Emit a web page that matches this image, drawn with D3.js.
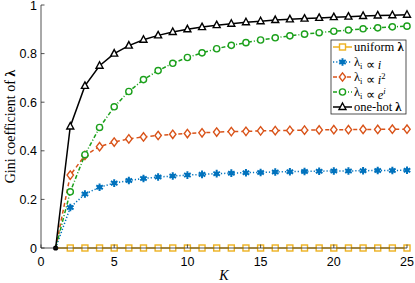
<!DOCTYPE html>
<html>
<head>
<meta charset="utf-8">
<script src="https://cdn.jsdelivr.net/npm/d3@7"></script>
<style>
  body { margin: 0; background: #fff; }
  svg text { fill: #000; }
</style>
</head>
<body>
<div id="chart"></div>
<script>
// K values and gini
var K = d3.range(1, 26);
var uniform = [0,0,0,0,0,0,0,0,0,0,0,0,0,0,0,0,0,0,0,0,0,0,0,0,0];
var linear = [0,0.167,0.222,0.25,0.267,0.278,0.286,0.292,0.296,0.3,0.303,0.306,0.308,0.31,0.311,0.313,0.314,0.315,0.316,0.317,0.317,0.318,0.319,0.319,0.32];
var square = [0,0.3,0.381,0.417,0.436,0.449,0.457,0.463,0.468,0.471,0.474,0.477,0.479,0.48,0.482,0.483,0.484,0.485,0.486,0.487,0.487,0.488,0.488,0.489,0.489];
var expo = [0,0.231,0.384,0.496,0.581,0.644,0.693,0.73,0.76,0.784,0.803,0.82,0.834,0.845,0.856,0.865,0.873,0.88,0.886,0.892,0.897,0.902,0.906,0.91,0.913];
var onehot = [0,0.5,0.667,0.75,0.8,0.833,0.857,0.875,0.889,0.9,0.909,0.917,0.923,0.929,0.933,0.938,0.941,0.944,0.947,0.95,0.952,0.955,0.957,0.958,0.96];
var xTicks = [0,5,10,15,20,25];
var yTicks = [0,0.2,0.4,0.6,0.8,1];

var W = 415, H = 283;
var margin = {top: 5, right: 8, bottom: 35, left: 41};

var sansFont = "'Liberation Sans', Arial, sans-serif";
var serifFont = "'Liberation Serif', 'Times New Roman', serif";

var x = d3.scaleLinear().domain([0,25]).range([margin.left, W - margin.right]);
var y = d3.scaleLinear().domain([0,1]).range([H - margin.bottom, margin.top]);

var svg = d3.select("#chart").append("svg")
    .attr("width", W).attr("height", H);

var series = [
  {name: "uniform", vals: uniform, color: "#EDB120", dash: null, marker: "square"},
  {name: "linear", vals: linear, color: "#0072BD", dash: "1.2,2", marker: "star"},
  {name: "square", vals: square, color: "#D95319", dash: "4,3", marker: "diamond"},
  {name: "expo", vals: expo, color: "#1BA01B", dash: "4,2,1,2", marker: "circle"},
  {name: "onehot", vals: onehot, color: "#000000", dash: null, marker: "triangle"}
];

var line = d3.line()
    .x(function(d, i) { return x(K[i]); })
    .y(function(d) { return y(d); });

function drawMarker(g, type, color) {
  if (type == "square") {
    g.append("rect").attr("x", -3).attr("y", -3).attr("width", 6).attr("height", 6)
      .attr("fill", "#fff").attr("stroke", color).attr("stroke-width", 1.4);
  } else if (type == "diamond") {
    g.append("path").attr("d", "M0,-4.2L3.2,0L0,4.2L-3.2,0Z")
      .attr("fill", "#fff").attr("stroke", color).attr("stroke-width", 1.4);
  } else if (type == "circle") {
    g.append("circle").attr("r", 3.1)
      .attr("fill", "#fff").attr("stroke", color).attr("stroke-width", 1.4);
  } else if (type == "triangle") {
    g.append("path").attr("d", "M0,-4L3.5,2.5L-3.5,2.5Z")
      .attr("fill", "#fff").attr("stroke", color).attr("stroke-width", 1.4);
  } else if (type == "star") {
    g.append("path").attr("d", d3.symbol().type(d3.symbolAsterisk).size(40)())
      .attr("fill", "none").attr("stroke", color).attr("stroke-width", 2);
    g.append("circle").attr("r", 2.2).attr("fill", color);
  }
}

// lines + markers
series.forEach(function(s) {
  svg.append("path")
    .datum(s.vals)
    .attr("d", line)
    .attr("fill", "none")
    .attr("stroke", s.color)
    .attr("stroke-width", 1.5)
    .attr("stroke-dasharray", s.dash);
});
series.forEach(function(s) {
  s.vals.forEach(function(v, i) {
    if (i == 0) return;
    var g = svg.append("g").attr("transform", "translate(" + x(K[i]) + "," + y(v) + ")");
    drawMarker(g, s.marker, s.color);
  });
});
// all series meet at K=1
svg.append("circle").attr("cx", x(K[0])).attr("cy", y(onehot[0])).attr("r", 2.6).attr("fill", "#000");

// axes (ticks inward)
var axisColor = "#262626";
svg.append("line").attr("x1", x(0)).attr("x2", x(25)).attr("y1", y(0)).attr("y2", y(0))
  .attr("stroke", axisColor).attr("stroke-width", 0.8);
svg.append("line").attr("x1", x(0)).attr("x2", x(0)).attr("y1", y(0)).attr("y2", y(1))
  .attr("stroke", axisColor).attr("stroke-width", 0.8);

svg.selectAll(".xt").data(xTicks).enter().append("line")
  .attr("x1", d => x(d)).attr("x2", d => x(d))
  .attr("y1", y(0)).attr("y2", y(0) - 3.5)
  .attr("stroke", axisColor).attr("stroke-width", 0.8);
svg.selectAll(".xl").data(xTicks).enter().append("text")
  .attr("x", d => x(d)).attr("y", y(0) + 18)
  .attr("text-anchor", "middle")
  .style("font-family", sansFont)
  .style("font-size", "12.5px")
  .text(d => d);

svg.selectAll(".yt").data(yTicks).enter().append("line")
  .attr("x1", x(0)).attr("x2", x(0) + 3.5)
  .attr("y1", d => y(d)).attr("y2", d => y(d))
  .attr("stroke", axisColor).attr("stroke-width", 0.8);
svg.selectAll(".yl").data(yTicks).enter().append("text")
  .attr("x", x(0) - 4).attr("y", d => y(d) + 4.5)
  .attr("text-anchor", "end")
  .style("font-family", sansFont)
  .style("font-size", "12.5px")
  .text(d => d);

// axis labels
svg.append("text")
  .attr("x", x(12.5)).attr("y", 280)
  .attr("text-anchor", "middle")
  .style("font-family", serifFont)
  .style("font-style", "italic")
  .style("font-size", "14px")
  .text("K");

var yl = svg.append("text")
  .attr("transform", "translate(15," + y(0.5) + ") rotate(-90)")
  .attr("text-anchor", "middle")
  .style("font-family", serifFont)
  .style("font-size", "14px");
yl.append("tspan").text("Gini coefficient of ");
yl.append("tspan").style("font-weight", "bold").text("λ");

// legend
var lg = svg.append("g").attr("transform", "translate(331,40)");
lg.append("rect").attr("width", 75).attr("height", 74)
  .attr("fill", "#fff").attr("stroke", axisColor).attr("stroke-width", 0.8);

var labels = [
  [{t: "uniform "}, {t: "λ", b: true}],
  [{t: "λ"}, {t: "i", sub: true}, {t: " ∝ "}, {t: "i", it: true}],
  [{t: "λ"}, {t: "i", sub: true}, {t: " ∝ "}, {t: "i", it: true}, {t: "2", sup: true}],
  [{t: "λ"}, {t: "i", sub: true}, {t: " ∝ "}, {t: "e", it: true}, {t: "i", sup: true, it: true}],
  [{t: "one-hot "}, {t: "λ", b: true}]
];

series.forEach(function(s, i) {
  var cy = 7 + i * 15;
  lg.append("line").attr("x1", 2).attr("x2", 21).attr("y1", cy).attr("y2", cy)
    .attr("stroke", s.color).attr("stroke-width", 1.5)
    .attr("stroke-dasharray", s.dash);
  var m = lg.append("g").attr("transform", "translate(11.5," + cy + ")");
  drawMarker(m, s.marker, s.color);

  var t = lg.append("text").attr("x", 23).attr("y", cy + 4)
    .style("font-family", serifFont)
    .style("font-size", "12.5px");
  labels[i].forEach(function(p) {
    var sp = t.append("tspan").text(p.t);
    if (p.b) sp.style("font-weight", "bold");
    if (p.it) sp.style("font-style", "italic");
    if (p.sub) sp.attr("dy", 2.5).style("font-size", "8.5px");
    if (p.sup) sp.attr("dy", -4.5).style("font-size", "8.5px");
    if (p.sub) t.append("tspan").attr("dy", -2.5).text("");
  });
});
</script>
</body>
</html>
